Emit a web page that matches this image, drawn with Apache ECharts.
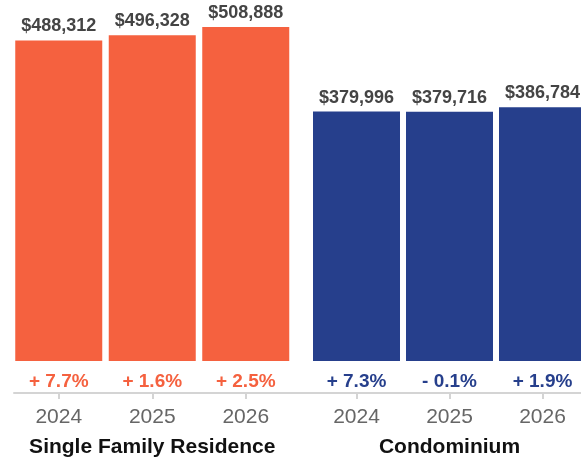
<!DOCTYPE html>
<html><head><meta charset="utf-8">
<script src="https://cdn.jsdelivr.net/npm/echarts@6/dist/echarts.min.js"></script>
<style>html,body{margin:0;padding:0;background:#fff}#c{width:581px;height:459px}</style>
</head><body><div id="c"></div>
<script>
const years = ['2024', '2025', '2026'];
const groupNames = ['Single Family Residence', 'Condominium'];
const sfrValues = [488312, 496328, 508888];
const condoValues = [379996, 379716, 386784];
const sfrChange = ['+ 7.7%', '+ 1.6%', '+ 2.5%'];
const condoChange = ['+ 7.3%', '- 0.1%', '+ 1.9%'];
const colors = ['#F5613F', '#263F8C'];

const FONT = 'Liberation Sans, Arial, Helvetica, sans-serif';
const chart = echarts.init(document.getElementById('c'), null, {renderer: 'canvas'});

function xAx(gi, name) {
  return {
    type: 'category', gridIndex: gi, data: years,
    axisLine: {show: false, onZero: false},
    axisTick: {show: true, alignWithLabel: true, length: 6, lineStyle: {color: '#d4d4d4', width: 2}},
    axisLabel: {color: '#666', fontSize: 21, fontFamily: FONT, margin: 14},
    name: name, nameLocation: 'middle', nameGap: 44,
    nameTextStyle: {color: '#111', fontSize: 21, fontWeight: 'bold', fontFamily: FONT}
  };
}
function yAx(gi) {
  return {type: 'value', gridIndex: gi, min: -48750, max: 550000, show: false, splitLine: {show: false}};
}
function barSeries(gi, vals, color) {
  return {
    type: 'bar', xAxisIndex: gi, yAxisIndex: gi, data: vals, barWidth: 87,
    itemStyle: {color: color},
    label: {show: true, position: 'top', distance: 5, color: '#444', fontSize: 18, fontWeight: 'bold', fontFamily: FONT,
      formatter: p => '$' + p.value.toLocaleString('en-US')}
  };
}
function pctSeries(gi, vals, pcts, color) {
  return {
    type: 'bar', xAxisIndex: gi, yAxisIndex: gi, data: vals, barWidth: 87, barGap: '-100%',
    itemStyle: {color: 'rgba(0,0,0,0)'}, silent: true,
    label: {show: true, position: 'bottom', distance: 11, color: color, fontSize: 19, fontWeight: 'bold', fontFamily: FONT,
      formatter: p => pcts[p.dataIndex]}
  };
}

chart.setOption({
  animation: false,
  grid: [
    {left: 12, width: 280.5, top: 0, bottom: 66, containLabel: false, outerBoundsMode: 'none'},
    {left: 310, width: 279, top: 0, bottom: 66, containLabel: false, outerBoundsMode: 'none'},
    {left: 14, right: 0, top: 0, bottom: 66, containLabel: false, outerBoundsMode: 'none'}
  ],
  xAxis: [
    xAx(0, groupNames[0]),
    xAx(1, groupNames[1]),
    {type: 'value', gridIndex: 2, min: 0, max: 1, axisLine: {show: true, onZero: false, lineStyle: {color: '#d4d4d4', width: 2}},
      axisTick: {show: false}, axisLabel: {show: false}, splitLine: {show: false}}
  ],
  yAxis: [yAx(0), yAx(1), yAx(2)],
  series: [
    barSeries(0, sfrValues, colors[0]),
    pctSeries(0, sfrValues, sfrChange, colors[0]),
    barSeries(1, condoValues, colors[1]),
    pctSeries(1, condoValues, condoChange, colors[1])
  ]
});
</script></body></html>
